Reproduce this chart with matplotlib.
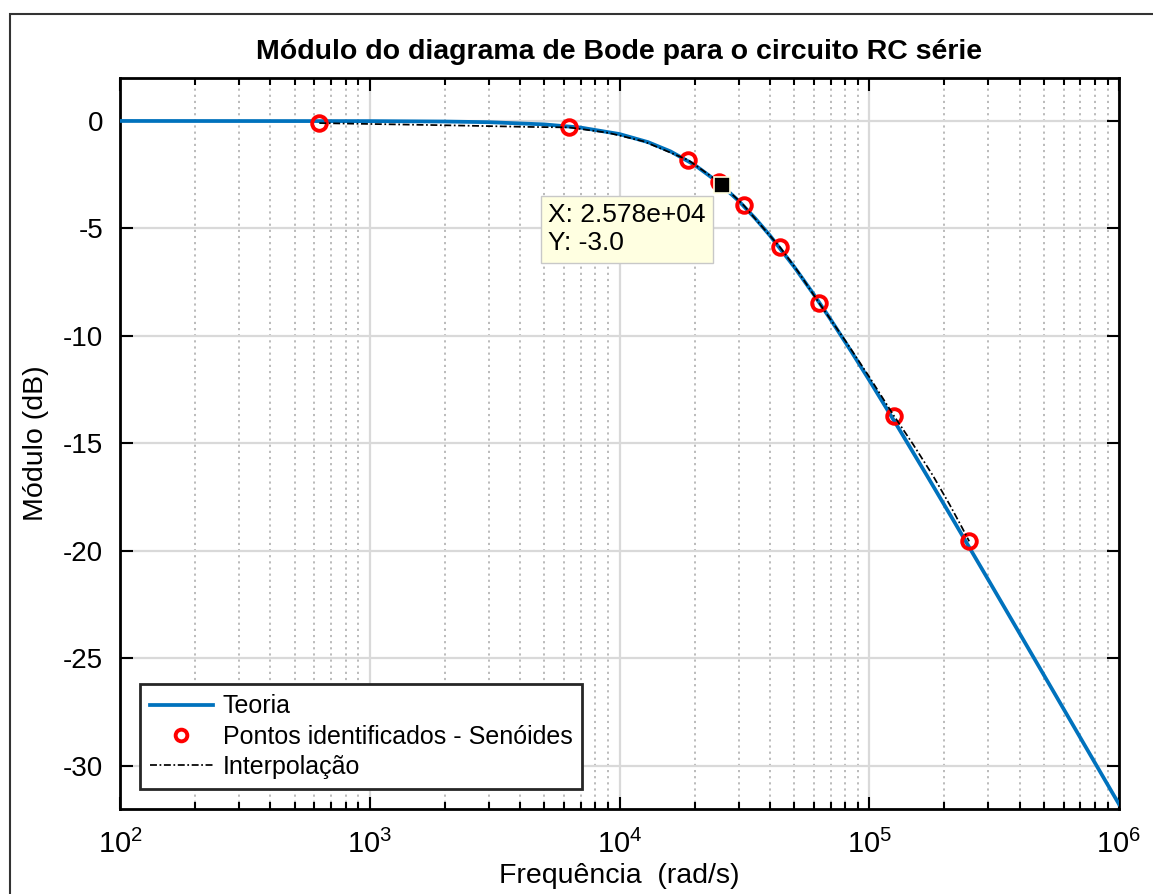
import matplotlib.pyplot as plt
import matplotlib.patches as mpatches
from matplotlib.ticker import LogLocator, NullFormatter

plt.rcParams['font.family'] = ['Liberation Sans', 'DejaVu Sans']
plt.rcParams['axes.unicode_minus'] = False

# theory curve
w_teoria = [1e2, 1e3, 2e3, 3e3, 5e3, 7e3, 1e4, 1.3e4, 1.6e4, 2e4, 2.5e4, 3e4, 3.5e4,
            4e4, 5e4, 6e4, 7e4, 8.5e4, 1e5, 1.3e5, 1.7e5, 2.2e5, 3e5, 4e5, 5.5e5,
            7.5e5, 1e6]
db_teoria = [0.0, -0.007, -0.026, -0.058, -0.160, -0.309, -0.609, -0.984, -1.415,
             -2.046, -2.878, -3.718, -4.539, -5.325, -6.777, -8.073, -9.229, -10.745,
             -12.054, -14.221, -16.482, -18.682, -21.348, -23.833, -26.591, -29.282,
             -31.776]

# identified points
w_pontos = [628, 6283, 18850, 25133, 31416, 43982, 62832, 125664, 251327]
db_pontos = [-0.10, -0.30, -1.82, -2.85, -3.92, -5.88, -8.45, -13.72, -19.55]

# interpolation curve
w_interp = [628, 1000, 2000, 3000, 4500, 6283, 9000, 12500, 18850, 25133, 31416,
            37000, 43982, 52000, 62832, 80000, 100000, 125664, 150000, 180000,
            210000, 235000, 251327]
db_interp = [-0.10, -0.14, -0.20, -0.24, -0.28, -0.30, -0.55, -0.95, -1.82, -2.85,
             -3.92, -4.88, -5.88, -7.02, -8.45, -10.2, -11.9, -13.72, -15.05,
             -16.5, -17.85, -18.9, -19.55]

# data tip
tip_x = 2.578e4
tip_y = -3.0

fig = plt.figure(figsize=(11.53, 8.94), dpi=100)
ax = fig.add_axes([0.1041, 0.0951, 0.8664, 0.8177])

ax.plot(w_teoria, db_teoria, color='#0072BD', lw=2.7, label='Teoria', zorder=3)
ax.plot(w_pontos, db_pontos, 'o', ms=10.5, mfc='none', mec='#FF0000', mew=2.8,
        label='Pontos identificados - Senóides', zorder=4)
ax.plot(w_interp, db_interp, color='black', lw=1.25, ls=(0, (4, 1.5, 1, 1.5)),
        label='Interpolação', zorder=5)

ax.plot([tip_x], [tip_y], 's', ms=11, mfc='black', mec='#FFFFE1', mew=1.2, zorder=6)
ax.annotate('X: 2.578e+04\nY: -3.0', xy=(tip_x, tip_y), xycoords='data',
            xytext=(-174, -18), textcoords='offset pixels', ha='left', va='top',
            fontsize=19, linespacing=1.2,
            bbox=dict(boxstyle='square,pad=0.28', fc='#FFFFE1', ec='#C8C8C8', lw=1),
            zorder=7)

ax.set_xscale('log')
ax.set_xlim(1e2, 1e6)
ax.set_ylim(-32, 2)
ax.set_yticks([0, -5, -10, -15, -20, -25, -30])
ax.xaxis.set_minor_locator(LogLocator(base=10, subs=range(2, 10)))
ax.xaxis.set_minor_formatter(NullFormatter())

ax.grid(which='major', color='#D9D9D9', lw=1.6, ls='-')
ax.grid(which='minor', axis='x', color='#B5B5B5', lw=1.3, ls=(0, (1.2, 2.2)))
ax.set_axisbelow(True)

ax.tick_params(which='both', direction='in', top=True, right=True, width=1.5)
ax.tick_params(which='major', length=9)
ax.tick_params(which='minor', length=5)
ax.tick_params(axis='y', labelsize=20, pad=12)
ax.tick_params(axis='x', labelsize=21, pad=15)
for s in ax.spines.values():
    s.set_linewidth(2)

ax.set_title('Módulo do diagrama de Bode para o circuito RC série',
             fontsize=20.5, fontweight='bold', pad=14)
ax.set_xlabel('Frequência  (rad/s)', fontsize=20.5, labelpad=3)
ax.set_ylabel('Módulo (dB)', fontsize=20.5, labelpad=10)

leg = ax.legend(loc='lower left', fontsize=18, fancybox=False, framealpha=1,
                edgecolor='#262626', borderpad=0.4, labelspacing=0.25,
                handlelength=2.5, handletextpad=0.4, borderaxespad=0.8,
                markerscale=0.8)
leg.get_frame().set_linewidth(2)

# outer frame of the screenshot
fig.patches.append(mpatches.Rectangle((10 / 1153, -0.1), 1.2, 0.1 + (1 - 14 / 894),
                                      transform=fig.transFigure, fill=False,
                                      ec='#333333', lw=1.5))

fig.savefig('out.png', dpi=100)
